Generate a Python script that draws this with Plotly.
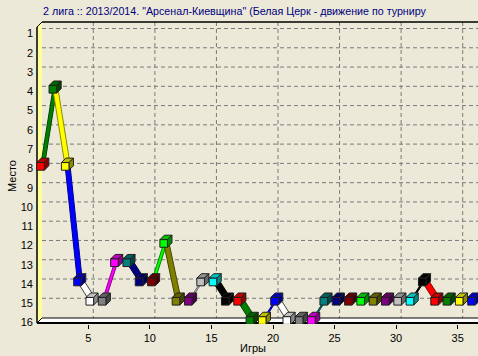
import plotly.graph_objects as go

# ---------------- data ----------------
games = list(range(1, 37))
places = [8, 4, 8, 14, 15, 15, 13, 13, 14, 14, 12, 15, 15, 14, 14, 15,
          15, 16, 16, 15, 16, 16, 16, 15, 15, 15, 15, 15, 15, 15, 15, 14,
          15, 15, 15, 15]
rank_ticks = list(range(1, 17))
game_ticks = [5, 10, 15, 20, 25, 30, 35]

title_text = '2 лига :: 2013/2014. "Арсенал-Киевщина" (Белая Церк - движение по турниру'
x_title = "Игры"
y_title = "Место"

# TeeChart default colour cycle
palette = ["#FF0000", "#008000", "#FFFF00", "#0000FF", "#FFFFFF", "#808080",
           "#FF00FF", "#008080", "#000080", "#800000", "#00FF00", "#808000",
           "#800080", "#C0C0C0", "#00FFFF", "#000000"]

# ---------------- geometry / style ----------------
W, H = 478, 356
PL, PR, PT, PB = 35, 478, 20, 324          # plot box in pixels
X0, SX = 39.05, 12.313                     # pixel of game 1, pixels per game
Y0, SY = 33.5, 19.27                       # pixel of rank 1, pixels per rank
BG = "#ECE9D8"
FONT = "Arial, Liberation Sans, sans-serif"


def gx(px):
    return 1 + (px - X0) / SX


def ry(py):
    return 1 + (py - Y0) / SY


def darken(hex_color, f):
    h = hex_color.lstrip("#")
    r, g, b = int(h[0:2], 16), int(h[2:4], 16), int(h[4:6], 16)
    return "#%02X%02X%02X" % (int(r * f), int(g * f), int(b * f))


D = 5                     # wall depth px
WL = 37                   # left wall outer edge px
TOPB = 22                 # back wall top px
FLF, FLB = 323, 318       # floor front / back px

shapes = []


def seg(x0, y0, x1, y1, color="black", width=1, dash=None):
    ln = dict(color=color, width=width)
    if dash:
        ln["dash"] = dash
    shapes.append(dict(type="line", xref="x", yref="y", x0=x0, y0=y0, x1=x1, y1=y1,
                       line=ln, layer="below"))


def poly(pts, fill):
    path = "M " + " L ".join("%f,%f" % p for p in pts) + " Z"
    shapes.append(dict(type="path", xref="x", yref="y", path=path, fillcolor=fill,
                       line=dict(width=0), layer="below"))


# left (yellow) wall
poly([(gx(WL), ry(FLF)), (gx(WL), ry(TOPB + D)), (gx(WL + D), ry(TOPB)), (gx(WL + D), ry(FLB))],
     "#FFFF99")
# floor
poly([(gx(WL), ry(FLF)), (gx(PR + 5), ry(FLF)), (gx(PR + 5), ry(FLB)), (gx(WL + D), ry(FLB))],
     "#FFFFFF")

# grid on back wall
for r in rank_ticks[:-1]:
    yy = r - D / SY
    seg(gx(WL + D), yy, gx(PR + 2), yy, "#7A7A7A", 1, "4px,3px")
for g in game_ticks:
    xx = g + D / SX
    seg(xx, ry(TOPB), xx, ry(FLB), "#7A7A7A", 1, "4px,3px")

# wall / floor edges
seg(gx(WL), ry(TOPB + D), gx(WL), ry(FLF), "black", 1.5)
seg(gx(WL), ry(TOPB + D), gx(WL + D), ry(TOPB), "black", 1)
seg(gx(WL + D), ry(TOPB), gx(PR + 2), ry(TOPB), "black", 1.5)
seg(gx(WL + D), ry(FLB), gx(PR + 2), ry(FLB), "black", 1)
seg(gx(WL), ry(FLF), gx(PR + 2), ry(FLF), "black", 2)
seg(gx(WL), ry(FLF), gx(WL + D), ry(FLB), "black", 1)

fig = go.Figure()

# series placement (slightly inside the 3D depth)
SHX, SHY = 1.5 / SX, -2.0 / SY
DX, DY = 4.5 / SX, 4.5 / SY      # series depth
HX, HY = 3.8 / SX, 3.8 / SY      # half size of cube face

xs = [g + SHX for g in games]
ys = [r + SHY for r in places]

# ribbons
for i in range(1, len(games)):
    c = palette[i % len(palette)]
    x0, y0, x1, y1 = xs[i - 1], ys[i - 1], xs[i], ys[i]
    fig.add_trace(go.Scatter(
        x=[x0, x1, x1 + DX, x0 + DX, x0],
        y=[y0, y1, y1 - DY, y0 - DY, y0],
        mode="lines", fill="toself", fillcolor=c,
        line=dict(color=darken(c, 0.55) if c != "#FFFFFF" else "#404040", width=1),
        hoverinfo="skip", showlegend=False))

# cubes
for i in range(len(games)):
    c = palette[i % len(palette)]
    cx, cy = xs[i], ys[i]
    faces = [
        ([cx - HX, cx + HX, cx + HX + DX, cx - HX + DX, cx - HX],
         [cy - HY, cy - HY, cy - HY - DY, cy - HY - DY, cy - HY], darken(c, 0.75)),
        ([cx + HX, cx + HX, cx + HX + DX, cx + HX + DX, cx + HX],
         [cy - HY, cy + HY, cy + HY - DY, cy - HY - DY, cy - HY], darken(c, 0.55)),
        ([cx - HX, cx + HX, cx + HX, cx - HX, cx - HX],
         [cy - HY, cy - HY, cy + HY, cy + HY, cy - HY], c),
    ]
    for fx, fy, fc in faces:
        fig.add_trace(go.Scatter(
            x=fx, y=fy, mode="lines", fill="toself", fillcolor=fc,
            line=dict(color="#202020", width=1),
            hoverinfo="skip", showlegend=False))

fig.update_layout(
    width=W, height=H,
    margin=dict(l=PL, r=W - PR, t=PT, b=H - PB, pad=0),
    paper_bgcolor=BG, plot_bgcolor=BG,
    font=dict(family=FONT, size=11, color="black"),
    shapes=shapes,
    title=dict(text=title_text, x=234.5 / W, y=1 - 11 / H, xref="container", yref="container",
               xanchor="center", yanchor="middle",
               font=dict(family=FONT, size=10.7, color="#000080")),
    xaxis=dict(range=[gx(PL), gx(PR)], tickvals=game_ticks, ticktext=[str(v) for v in game_ticks],
               showgrid=False, zeroline=False, showline=False,
               ticks="outside", ticklen=4, tickwidth=1, tickcolor="black",
               tickfont=dict(size=11, family=FONT, color="black")),
    yaxis=dict(range=[ry(PB), ry(PT)], tickvals=rank_ticks, ticktext=[str(v) for v in rank_ticks],
               showgrid=False, zeroline=False, showline=False, ticks="",
               ticklabelstandoff=1,
               tickfont=dict(size=11, family=FONT, color="black")),
    annotations=[
        dict(text=x_title, x=(252.5 - PL) / (PR - PL), y=(PB - 348) / (PB - PT),
             xref="paper", yref="paper", showarrow=False, xanchor="center", yanchor="middle",
             font=dict(size=11, family=FONT, color="black")),
        dict(text=y_title, x=(12 - PL) / (PR - PL), y=(PB - 176) / (PB - PT),
             xref="paper", yref="paper", showarrow=False, xanchor="center", yanchor="middle",
             textangle=-90, font=dict(size=11, family=FONT, color="black")),
    ],
)

fig.write_html("out.html", config={"displayModeBar": False},
               post_script="document.body.style.margin='0';document.body.style.overflow='hidden';")
